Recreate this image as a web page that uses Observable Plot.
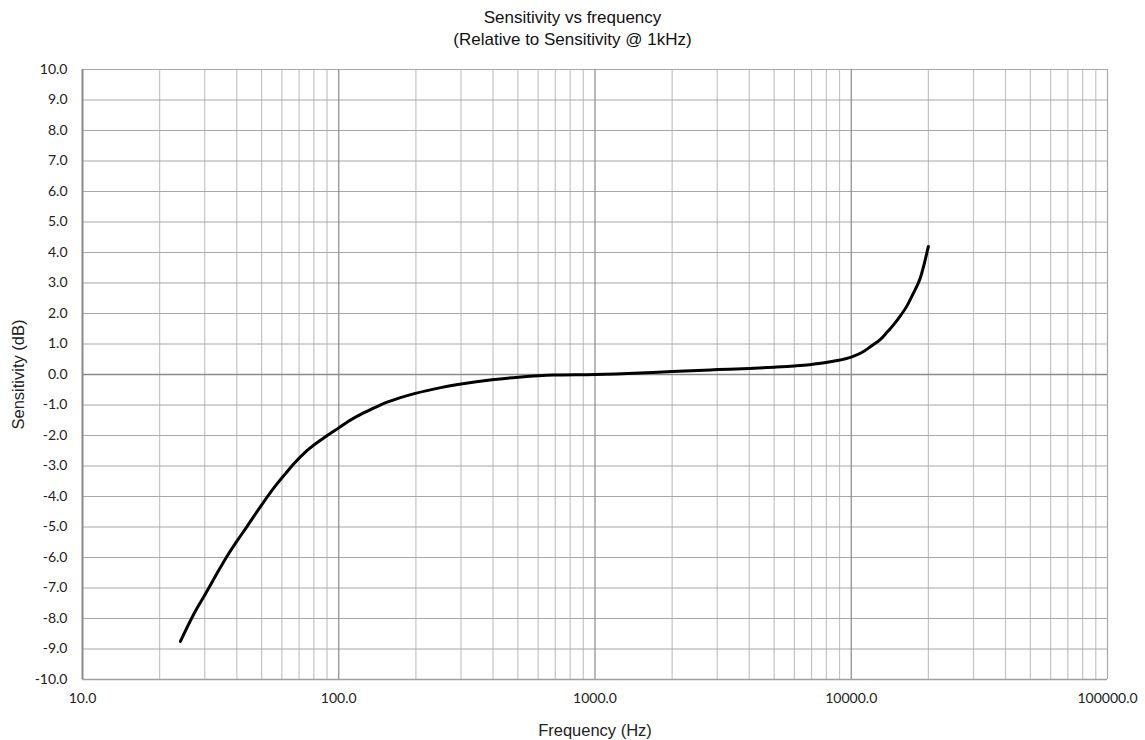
<!DOCTYPE html>
<html>
<head>
<meta charset="utf-8">
<script src="https://cdn.jsdelivr.net/npm/d3@7"></script>
<script src="https://cdn.jsdelivr.net/npm/@observablehq/plot@0.6"></script>
<style>
  body { margin: 0; background: #fff; }
  #wrap { width: 1145px; position: relative; }
  #title { height: 50px; text-align: center; font-family: "Liberation Sans", Arial, sans-serif; font-size: 17px; line-height: 22px; color: #111; padding-top: 7px; box-sizing: border-box; }
</style>
</head>
<body>
<div id="wrap">
  <div id="title">Sensitivity vs frequency<br>(Relative to Sensitivity @ 1kHz)</div>
  <div id="chart"></div>
</div>
<script>
const frequency = [24.1, 27.2, 30.2, 33.5, 36.7, 40.0, 43.9, 49.5, 57.5, 62, 66.8, 75.3, 90.2, 100, 107, 125, 141, 150, 174, 199, 250, 300, 396, 503, 686, 1000, 1500, 2000, 3000, 4000, 5000, 6000, 6860, 8600, 10000, 11000, 12060, 13000, 13800, 14700, 15570, 16500, 17300, 18640, 20000];
const sensitivity = [-8.75, -7.85, -7.19, -6.52, -5.95, -5.47, -4.98, -4.33, -3.58, -3.25, -2.93, -2.49, -2.0, -1.75, -1.58, -1.26, -1.05, -0.95, -0.76, -0.62, -0.43, -0.31, -0.17, -0.09, -0.02, 0.0, 0.05, 0.10, 0.16, 0.20, 0.24, 0.28, 0.32, 0.44, 0.57, 0.72, 0.95, 1.15, 1.39, 1.65, 1.93, 2.25, 2.59, 3.19, 4.2];
const xTicks = [10, 100, 1000, 10000, 100000];
const yTicks = [-10, -9, -8, -7, -6, -5, -4, -3, -2, -1, 0, 1, 2, 3, 4, 5, 6, 7, 8, 9, 10];

const data = frequency.map((f, i) => ({f, s: sensitivity[i]}));
const minorTicks = [];
for (let d = 10; d < 100000; d *= 10) for (let k = 2; k <= 9; k++) minorTicks.push(d * k);

const chart = Plot.plot({
  width: 1145,
  height: 690,
  marginLeft: 82,
  marginRight: 38,
  marginTop: 19,
  marginBottom: 61,
  style: {fontFamily: "Lato, sans-serif", fontSize: "14px", color: "#222", background: "#fff"},
  x: {type: "log", domain: [10, 100000]},
  y: {domain: [-10, 10]},
  marks: [
    Plot.ruleX(minorTicks, {stroke: "#c4c4c4", strokeWidth: 1.2}),
    Plot.ruleY(yTicks.filter(d => d !== 0), {stroke: "#a8a8a8", strokeWidth: 1.2}),
    Plot.ruleX(xTicks.slice(1, 4), {stroke: "#8a8a8a", strokeWidth: 1.2}),
    Plot.ruleX([100000], {stroke: "#a8a8a8", strokeWidth: 1.2}),
    Plot.ruleY([0], {stroke: "#8a8a8a", strokeWidth: 1.5}),
    Plot.ruleY([-10], {stroke: "#a0a0a0", strokeWidth: 1.5}),
    Plot.ruleX([10], {stroke: "#8a8a8a", strokeWidth: 2}),
    Plot.axisX({ticks: xTicks, tickSize: 0, tickPadding: 14, tickFormat: d => d.toFixed(1),
      label: "Frequency (Hz)", labelAnchor: "center", labelArrow: "none", labelOffset: 56,
      fontSize: 14}),
    Plot.axisY({ticks: yTicks, tickSize: 0, tickPadding: 15, tickFormat: d => d.toFixed(1),
      label: "Sensitivity (dB)", labelAnchor: "center", labelArrow: "none", labelOffset: 70,
      fontSize: 14}),
    Plot.line(data, {x: "f", y: "s", stroke: "#000", strokeWidth: 3, curve: "monotone-x"})
  ]
});
document.getElementById("chart").appendChild(chart);
chart.querySelectorAll("g[aria-label='x-axis label'], g[aria-label='y-axis label']").forEach(g => {
  g.setAttribute("font-family", "Liberation Sans, Arial, sans-serif");
  g.setAttribute("font-size", "16.5");
});
</script>
</body>
</html>
